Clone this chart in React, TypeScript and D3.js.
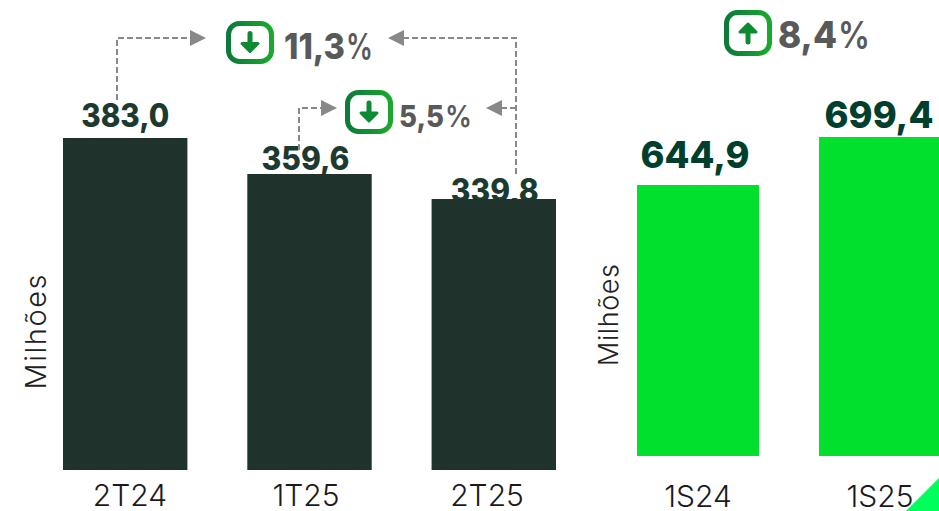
import React from "react";
import * as d3 from "d3";

const quarterCats = ["2T24", "1T25", "2T25"];
const quarterVals = [383.0, 359.6, 339.8];
const quarterLabels = ["383,0", "359,6", "339,8"];
const semesterCats = ["1S24", "1S25"];
const semesterVals = [644.9, 699.4];
const semesterLabels = ["644,9", "699,4"];

const DARK = "#1f332c";
const GREEN = "#00e02d";
const GRAY = "#888888";
const FONT = "Inter, 'Open Sans', sans-serif";

const xQ = d3.scaleBand<string>().domain(quarterCats).range([63, 556]).paddingInner(0.325).paddingOuter(0);
const xS = d3.scaleBand<string>().domain(semesterCats).range([637, 941]).paddingInner(0.33).paddingOuter(0);
// The source's bars use a broken, non-proportional value axis
const yQ = d3.scaleLinear().domain([339.8, 359.6, 383]).range([199, 174, 138]);
const yS = d3.scaleLinear().domain([644.9, 699.4]).range([185, 137]);

function Badge({ x, y, w, h, up, id }: { x: number; y: number; w: number; h: number; up?: boolean; id: string }) {
  const cx = x + w / 2;
  const cy = y + h / 2;
  const d = up ? -1 : 1;
  return (
    <g>
      <defs>
        <linearGradient id={id} x1="0" x2="1" y1="0" y2="0">
          <stop offset="0" stopColor="#0c7a3a" />
          <stop offset="1" stopColor="#1aa82e" />
        </linearGradient>
      </defs>
      <rect x={x + 2.5} y={y + 2.5} width={w - 5} height={h - 5} rx={11} fill="#fff" stroke={`url(#${id})`} strokeWidth={5} />
      <path d={`M${cx},${cy - 9 * d}V${cy + 5 * d}`} fill="none" stroke="#0e8a32" strokeWidth={5} strokeLinecap="round" />
      <path
        d={`M${cx - 8},${cy + 1 * d}L${cx},${cy + 9 * d}L${cx + 8},${cy + 1 * d}Z`}
        fill="#0e8a32"
        stroke="#0e8a32"
        strokeWidth={3}
        strokeLinejoin="round"
      />
    </g>
  );
}

function Connector({ d, tip }: { d: string; tip: [number, number, number] }) {
  const [tx, ty, dir] = tip;
  return (
    <g>
      <path d={d} fill="none" stroke={GRAY} strokeWidth={2} strokeDasharray="6 3" />
      <path d={`M${tx},${ty}L${tx - dir * 16},${ty - 8}L${tx - dir * 16},${ty + 8}Z`} fill={GRAY} />
    </g>
  );
}

function Pct({ x, y, size, num, numW, pctX, pctW }: { x: number; y: number; size: number; num: string; numW: number; pctX: number; pctW: number }) {
  return (
    <g fontFamily={FONT} fontSize={size} fill="#595959">
      <text x={x} y={y} fontWeight={800} textLength={numW} lengthAdjust="spacingAndGlyphs">{num}</text>
      <text x={pctX} y={y} fontWeight={600} textLength={pctW} lengthAdjust="spacingAndGlyphs">%</text>
    </g>
  );
}

const qOffsets = [[0, -11], [-4, -4], [1, 3]];
const sOffsets = [[-3, -17], [-1, -9]];
const qTickX = [130, 306, 487];
const sTickX = [698, 880];

export default function App() {
  return (
    <svg width={939} height={511} style={{ position: "fixed", left: 0, top: 0, background: "#fff" }}>
      {quarterVals.map((v, i) => (
        <text key={i} x={xQ(quarterCats[i])! + xQ.bandwidth() / 2 + qOffsets[i][0]} y={yQ(v) + qOffsets[i][1]}
          textAnchor="middle" fontFamily={FONT} fontWeight={800} fontSize={32} fill="#1d3a30" textLength={88} lengthAdjust="spacingAndGlyphs">
          {quarterLabels[i]}
        </text>
      ))}
      {quarterVals.map((v, i) => (
        <rect key={i} x={xQ(quarterCats[i])} y={yQ(v)} width={xQ.bandwidth()} height={470 - yQ(v)} fill={DARK} />
      ))}
      {semesterVals.map((v, i) => (
        <rect key={i} x={xS(semesterCats[i])} y={yS(v)} width={xS.bandwidth()} height={456 - yS(v)} fill={GREEN} />
      ))}
      {semesterVals.map((v, i) => (
        <text key={i} x={xS(semesterCats[i])! + xS.bandwidth() / 2 + sOffsets[i][0]} y={yS(v) + sOffsets[i][1]}
          textAnchor="middle" fontFamily={FONT} fontWeight={800} fontSize={37} fill="#003f2e" textLength={109} lengthAdjust="spacingAndGlyphs">
          {semesterLabels[i]}
        </text>
      ))}
      {quarterCats.map((c, i) => (
        <text key={c} x={qTickX[i]} y={506} textAnchor="middle" fontFamily={FONT} fontWeight={300} fontSize={30} fill="#1a1a1a">{c}</text>
      ))}
      {semesterCats.map((c, i) => (
        <text key={c} x={sTickX[i]} y={507} textAnchor="middle" fontFamily={FONT} fontWeight={300} fontSize={30} fill="#1a1a1a">{c}</text>
      ))}
      <text transform="translate(46,332) rotate(-90)" textAnchor="middle" fontFamily={FONT} fontWeight={300} fontSize={29} fill="#222" textLength={115}>Milhões</text>
      <text transform="translate(618,315) rotate(-90)" textAnchor="middle" fontFamily={FONT} fontWeight={300} fontSize={27} fill="#222" textLength={102}>Milhões</text>

      <Connector d="M117,100V38H192" tip={[206, 38, 1]} />
      <Connector d="M516,174V38H402" tip={[388, 38, -1]} />
      <Connector d="M299,150V108H323" tip={[337, 108, 1]} />
      <Connector d="M516,108H500" tip={[486, 108, -1]} />

      <Badge id="b1" x={226} y={21} w={48} h={43} />
      <Badge id="b2" x={345} y={90} w={48} h={44} />
      <Badge id="b3" x={724} y={10} w={48} h={46} up />
      <Pct x={284} y={59} size={36} num="11,3" numW={61} pctX={346} pctW={27} />
      <Pct x={399} y={127} size={30} num="5,5" numW={45} pctX={445} pctW={27} />
      <Pct x={778} y={48} size={37} num="8,4" numW={59} pctX={838} pctW={32} />

      <path d="M906,511L939,478V511Z" fill="#00ff5a" />
    </svg>
  );
}
